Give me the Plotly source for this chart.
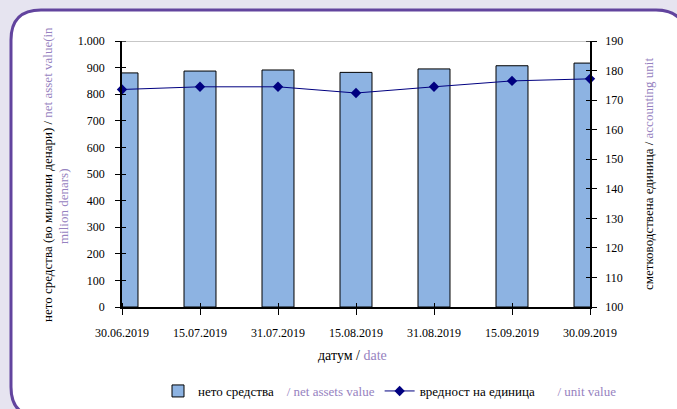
import plotly.graph_objects as go

dates = ["30.06.2019", "15.07.2019", "31.07.2019", "15.08.2019", "31.08.2019", "15.09.2019", "30.09.2019"]
net_assets = [880, 887, 891, 882, 895, 907, 917]
unit_value = [173.6, 174.5, 174.5, 172.4, 174.5, 176.5, 177.2]
left_ticks = [0, 100, 200, 300, 400, 500, 600, 700, 800, 900, 1000]
right_ticks = [100, 110, 120, 130, 140, 150, 160, 170, 180, 190]

W, H = 677, 409
L, R, T, B = 122, 590, 41, 307
PURPLE = "#9682c0"
BORDER = "#62449e"
BG = "#e6e4f0"
FONT = "Liberation Serif, DejaVu Serif, serif"

def px(x):
    return (x - L) / (R - L)

def py(y):
    return (B - y) / (B - T)

xs = list(range(len(dates)))

fig = go.Figure()
fig.add_trace(go.Bar(
    x=xs, y=net_assets, width=0.41,
    marker=dict(color="#8db3e2", line=dict(color="black", width=1)),
    name="нето средства    <span style='color:%s'>/ net assets value</span>" % PURPLE,
    yaxis="y",
))
fig.add_trace(go.Scatter(
    x=xs, y=unit_value, mode="lines+markers",
    line=dict(color="#000080", width=1),
    marker=dict(symbol="diamond", size=8, color="#000080"),
    name="вредност на единица       <span style='color:%s'>/ unit value</span>" % PURPLE,
    yaxis="y2", cliponaxis=False,
))

# rounded frame (pixel geometry converted to paper coords)
x0, y0, x1, y1, r = 11, 10, 686, 417, 30
def P(x, y):
    return "%.5f,%.5f" % (px(x), py(y))
path = ("M " + P(x0 + r, y0) + " L " + P(x1 - r, y0) + " Q " + P(x1, y0) + " " + P(x1, y0 + r) +
        " L " + P(x1, y1 - r) + " Q " + P(x1, y1) + " " + P(x1 - r, y1) +
        " L " + P(x0 + r, y1) + " Q " + P(x0, y1) + " " + P(x0, y1 - r) +
        " L " + P(x0, y0 + r) + " Q " + P(x0, y0) + " " + P(x0 + r, y0) + " Z")

shapes = [
    dict(type="path", xref="paper", yref="paper", path=path, fillcolor="white",
         line=dict(color=BORDER, width=3), layer="below"),
    dict(type="line", xref="paper", yref="y", x0=0, x1=1, y0=1000, y1=1000,
         line=dict(color="#909090", width=1)),
]

annotations = [
    dict(xref="paper", yref="paper", x=px(47), y=py(175), showarrow=False, textangle=-90,
         text="нето средства (во милиони денари) / <span style='color:%s'>net asset value(in</span>" % PURPLE,
         font=dict(family=FONT, size=13, color="black"), xanchor="center", yanchor="middle"),
    dict(xref="paper", yref="paper", x=px(63), y=py(207), showarrow=False, textangle=-90,
         text="<span style='color:%s'>milion denars)</span>" % PURPLE,
         font=dict(family=FONT, size=13, color="black"), xanchor="center", yanchor="middle"),
    dict(xref="paper", yref="paper", x=px(648), y=py(174), showarrow=False, textangle=-90,
         text="сметководствена единица / <span style='color:%s'>accounting unit</span>" % PURPLE,
         font=dict(family=FONT, size=13, color="black"), xanchor="center", yanchor="middle"),
    dict(xref="paper", yref="paper", x=px(352), y=py(355), showarrow=False,
         text="датум / <span style='color:%s'>date</span>" % PURPLE,
         font=dict(family=FONT, size=14, color="black"), xanchor="center", yanchor="middle"),
]

fig.update_layout(
    template="none",
    width=W, height=H,
    margin=dict(l=L, r=W - R, t=T, b=H - B, autoexpand=False),
    paper_bgcolor=BG, plot_bgcolor="rgba(0,0,0,0)",
    separators=",.",
    font=dict(family=FONT, size=12, color="black"),
    showlegend=True,
    legend=dict(orientation="h", x=px(390), y=py(391), xanchor="center", yanchor="middle",
                bgcolor="rgba(0,0,0,0)", font=dict(family=FONT, size=13), itemwidth=30,
                tracegroupgap=0),
    xaxis=dict(range=[0, 6], tickvals=xs, ticktext=dates, showgrid=False, zeroline=False,
               automargin=False,
               showline=True, linecolor="black", linewidth=1.5,
               ticks="outside", ticklen=6, tickcolor="black", ticklabelstandoff=8,
               minor=dict(ticks="inside", tickvals=xs, ticklen=4, tickcolor="black", showgrid=False)),
    yaxis=dict(range=[0, 1000], tickvals=left_ticks, separatethousands=True, showgrid=False,
               automargin=False,
               zeroline=False, showline=True, linecolor="black", linewidth=1.5,
               ticks="outside", ticklen=5, tickcolor="black", ticklabelstandoff=8,
               minor=dict(ticks="inside", tickvals=left_ticks, ticklen=4, tickcolor="black", showgrid=False)),
    yaxis2=dict(range=[100, 190], tickvals=right_ticks, overlaying="y", side="right", showgrid=False,
                automargin=False,
                zeroline=False, showline=True, linecolor="black", linewidth=1.5,
                ticks="outside", ticklen=5, tickcolor="black", ticklabelstandoff=6,
                minor=dict(ticks="inside", tickvals=right_ticks, ticklen=4, tickcolor="black", showgrid=False)),
    shapes=shapes, annotations=annotations,
)

fig.write_html(
    "out.html",
    config={"displayModeBar": False},
    post_script="document.body.style.margin='0';document.body.style.padding='0';"
                "document.body.style.background='%s';document.body.style.overflow='hidden';" % BG,
)
